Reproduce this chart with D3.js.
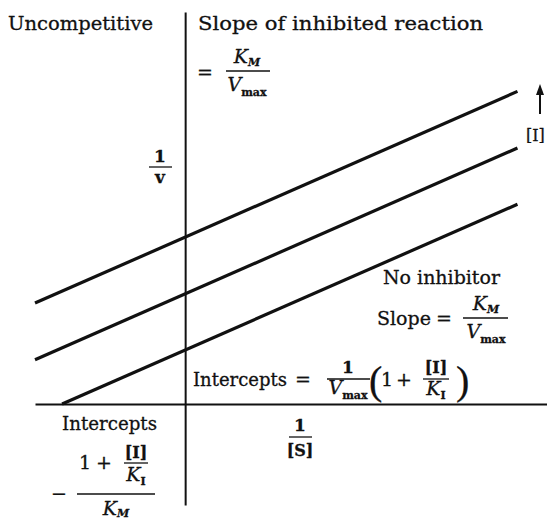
<!DOCTYPE html>
<html>
<head>
<meta charset="utf-8">
<script src="https://cdn.jsdelivr.net/npm/d3@7"></script>
<style>
  body { margin: 0; background: #fff; }
  svg { display: block; background: #fff; }
  text { font-family: "DejaVu Serif", "Liberation Serif", serif; fill: #111; stroke: #111; stroke-width: 0.3px; }
</style>
</head>
<body>
<svg id="chart" width="547" height="519"></svg>
<script>
// Lineweaver–Burk (double reciprocal) plot for uncompetitive inhibition.
// Parallel lines: the inhibitor raises the 1/v intercept but leaves the slope KM/Vmax unchanged.
const inhibitorLevels = ["none", "low", "high"];   // increasing [I]
const intercepts = [1.0, 2.04, 3.09];              // 1/v at 1/[S] = 0, in units of 1/Vmax
const slopes = [1.0, 1.0, 1.0];                    // KM/Vmax (same for all lines)
const xStarts = [-1.0, -1.22, -1.22];              // first 1/[S] drawn (−1/KM for no inhibitor)
const xEnds = [2.7, 2.7, 2.7];                     // last 1/[S] drawn

const svg = d3.select("#chart");

const x = d3.scaleLinear().domain([-1.22, 2.94]).range([35, 547]);
const y = d3.scaleLinear().domain([-1.87, 7.26]).range([505, 12]);

// Axes: plain crossing lines, no ticks
svg.append("g")
  .attr("transform", `translate(0,${y(0)})`)
  .call(d3.axisBottom(x).tickValues([]).tickSizeOuter(0))
  .call(g => g.select(".domain").attr("stroke", "#111").attr("stroke-width", 2));

svg.append("g")
  .attr("transform", `translate(${x(0)},0)`)
  .call(d3.axisLeft(y).tickValues([]).tickSizeOuter(0))
  .call(g => g.select(".domain").attr("stroke", "#111").attr("stroke-width", 2));

// One straight line per inhibitor level
const lineGen = d3.line().x(d => x(d[0])).y(d => y(d[1]));
const series = inhibitorLevels.map((lvl, i) => ({
  level: lvl,
  pts: [xStarts[i], xEnds[i]].map(xv => [xv, intercepts[i] + slopes[i] * xv])
}));

svg.append("g").selectAll("path")
  .data(series)
  .join("path")
  .attr("d", d => lineGen(d.pts))
  .attr("fill", "none")
  .attr("stroke", "#111")
  .attr("stroke-width", 3.2);

// Arrow showing direction of increasing [I]
svg.append("line")
  .attr("x1", 540).attr("x2", 540).attr("y1", 114).attr("y2", 92)
  .attr("stroke", "#111").attr("stroke-width", 2);
svg.append("path")
  .attr("d", "M540,84 L536,95 L544,95 Z")
  .attr("fill", "#111");

// ---- text helpers ----
const FS = 19;
function txt(str, tx, ty, opts = {}) {
  const t = svg.append("text")
    .attr("x", tx).attr("y", ty)
    .attr("font-size", opts.size || FS)
    .attr("text-anchor", opts.anchor || "start");
  if (opts.italic) t.attr("font-style", "italic");
  if (opts.bold) t.attr("font-weight", "bold");
  if (opts.len) t.attr("textLength", opts.len).attr("lengthAdjust", "spacingAndGlyphs");
  if (opts.family) t.style("font-family", opts.family);
  t.text(str);
  return t;
}
// Symbol with subscript, e.g. K_M, V_max
function sym(main, sub, tx, ty, opts = {}) {
  const t = svg.append("text")
    .attr("x", tx).attr("y", ty)
    .attr("font-size", opts.size || FS)
    .attr("text-anchor", opts.anchor || "start");
  t.append("tspan").attr("font-style", "italic").text(main);
  t.append("tspan")
    .attr("font-size", opts.subSize || 11)
    .attr("font-style", opts.subItalic ? "italic" : "normal")
    .attr("font-weight", "bold")
    .attr("dy", opts.subDy || 5)
    .text(sub);
  return t;
}
function bar(x1, x2, yy) {
  svg.append("line").attr("x1", x1).attr("x2", x2).attr("y1", yy).attr("y2", yy)
    .attr("stroke", "#111").attr("stroke-width", 1.3);
}

// Headings
txt("Uncompetitive", 8, 30, { len: 145 });
txt("Slope of inhibited reaction", 198, 30, { len: 285 });

// = KM / Vmax (slope of inhibited reaction)
txt("=", 197, 79);
sym("K", "M", 247, 63, { anchor: "middle", subItalic: true, subDy: 3 });
bar(226, 270, 71);
sym("V", "max", 247, 91, { anchor: "middle", subDy: 5 });

// [I] beside arrow
txt("[I]", 526, 141, { size: 16 });

// 1/v axis label
txt("1", 160, 162, { anchor: "middle", bold: true, size: 17 });
bar(149, 172, 167);
txt("v", 160, 183, { anchor: "middle", bold: true, size: 17 });

// No inhibitor annotation
txt("No inhibitor", 383, 284, { len: 117 });
txt("Slope", 377, 325, { len: 54 });
txt("=", 436, 325);
sym("K", "M", 486, 310, { anchor: "middle", subItalic: true, subDy: 3 });
bar(463, 508, 318);
sym("V", "max", 486, 338, { anchor: "middle", subDy: 5 });

// Intercepts = 1/Vmax (1 + [I]/KI)
txt("Intercepts", 193, 386, { size: 18 });
txt("=", 295, 386);
txt("1", 348, 373, { anchor: "middle", size: 17, bold: true });
bar(327, 370, 379);
sym("V", "max", 348, 394, { anchor: "middle", subDy: 5 });
txt("(", 369, 394, { size: 40, family: "Liberation Serif" });
txt("1", 381, 386);
txt("+", 396, 386);
txt("[I]", 436, 373, { anchor: "middle", size: 16, bold: true });
bar(423, 449, 379);
sym("K", "I", 436, 395, { anchor: "middle", subDy: 4 });
txt(")", 456, 394, { size: 40, family: "Liberation Serif" });

// x-intercept annotation: −(1 + [I]/KI)/KM
txt("Intercepts", 62, 430, { len: 95 });
txt("1", 79, 469);
txt("+", 96, 469);
txt("[I]", 136, 458, { anchor: "middle", size: 16, bold: true });
bar(124, 148, 463);
sym("K", "I", 136, 481, { anchor: "middle", subDy: 4 });
txt("−", 51, 500);
bar(77, 155, 494);
sym("K", "M", 116, 515, { anchor: "middle", subItalic: true, subDy: 2 });

// 1/[S] axis label
txt("1", 300, 431, { anchor: "middle", bold: true, size: 17 });
bar(289, 312, 437);
txt("[S]", 300, 456, { anchor: "middle", size: 16, bold: true });
</script>
</body>
</html>
